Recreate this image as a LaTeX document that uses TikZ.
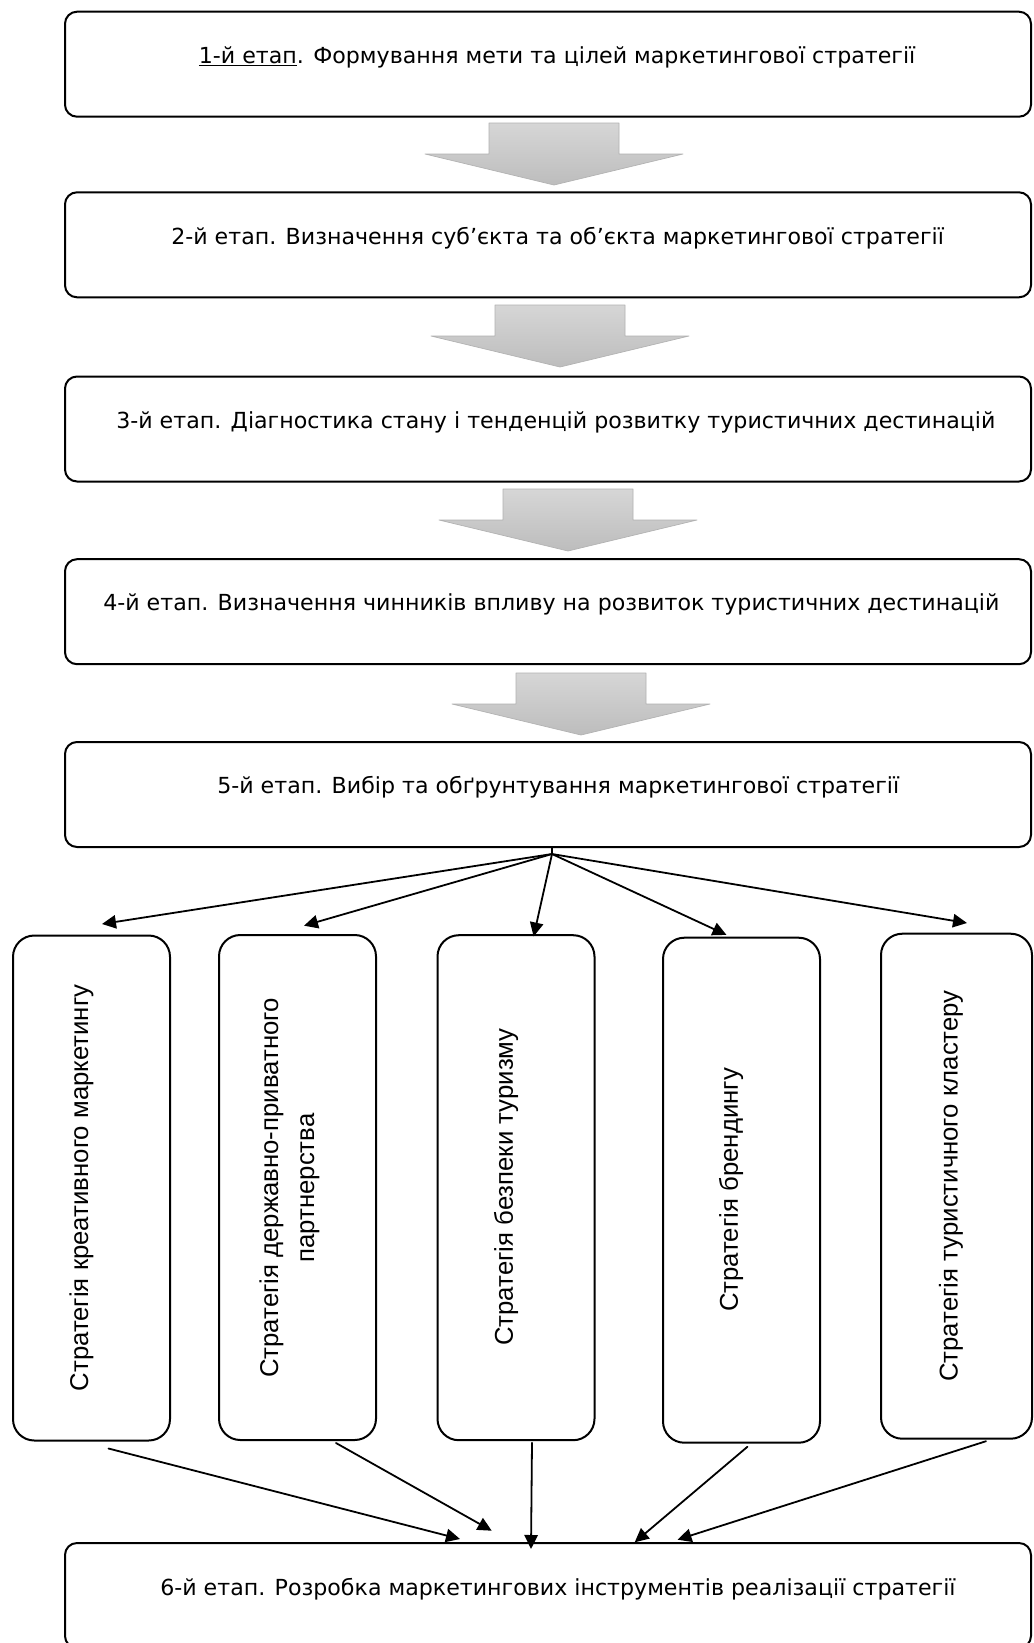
\documentclass[tikz,border=0pt]{standalone}
\usepackage{fontspec}
\setmainfont{DejaVu Sans}
\newfontfamily\arialfont{Liberation Sans}
\usetikzlibrary{arrows.meta,calc}

\begin{document}
\begin{tikzpicture}[x=0.75pt,y=-0.75pt,>={Triangle[length=10.5pt,width=10pt]},line join=round,line cap=round,
	stage/.style={draw,line width=1.5pt,rounded corners=9pt,minimum width=724.5pt,minimum height=78.75pt,inner sep=0pt},
	stagetxt/.style={anchor=west,inner sep=0pt,font=\fontsize{16.6}{20}\selectfont},
	strat/.style={draw,line width=1.5pt,rounded corners=16pt,minimum width=117.75pt,minimum height=378.75pt,inner sep=0pt},
	strattxt/.style={inner sep=0pt,rotate=90,align=center,font=\arialfont\fontsize{19.3}{27}\selectfont},
	bigarrow/.style={draw=black!30,line width=0.5pt,top color=black!16,bottom color=black!26},
	link/.style={->,line width=1.35pt}]
	\path[use as bounding box,fill=white] (0,0) rectangle (1033,1643);
	% етапи
	\foreach \i/\yc in {1/64.2,2/244.8,3/429,4/611.7,5/794.5,6/1595.5}
		\node[stage] (st\i) at (548,\yc) {};
	\node[stagetxt] (t1) at (198.6,57) {\underline{1-й етап}. Формування мети та цілей маркетингової стратегії};
	\node[stagetxt] (t2) at (171,238) {2-й етап. Визначення суб’єкта та об’єкта маркетингової стратегії};
	\node[stagetxt] (t3) at (116,422) {3-й етап. Діагностика стану і тенденцій розвитку туристичних дестинацій};
	\node[stagetxt] (t4) at (103,604) {4-й етап. Визначення чинників впливу на розвиток туристичних дестинацій};
	\node[stagetxt] (t5) at (217,787) {5-й етап. Вибір та обґрунтування маркетингової стратегії};
	\node[stagetxt] (t6) at (160,1589) {6-й етап. Розробка маркетингових інструментів реалізації стратегії};
	% сірі стрілки
	\foreach \cx/\ty in {554/123,560/305,568/489,581/673}
		\draw[bigarrow] (\cx-65,\ty) -- (\cx+65,\ty) -- (\cx+65,\ty+31) -- (\cx+129,\ty+31) -- (\cx,\ty+62) -- (\cx-129,\ty+31) -- (\cx-65,\ty+31) -- cycle;
	% стратегії
	\node[strat] (k1) at (91.5,1188) {};
	\node[strat] (k2) at (297.5,1187.5) {};
	\node[strat] (k3) at (516,1187.7) {};
	\node[strat] (k4) at (741.5,1190.2) {};
	\node[strat,minimum width=113.25pt] (k5) at (956.5,1186.2) {};
	\node[strattxt] (s1) at (81.5,1188) {Стратегія креативного маркетингу};
	\node[strattxt] (s2) at (289.5,1188) {Стратегія державно-приватного\\партнерства};
	\node[strattxt] (s3) at (506,1187) {Стратегія безпеки туризму};
	\node[strattxt] (s4) at (731,1190) {Стратегія брендингу};
	\node[strattxt] (s5) at (951,1186) {Стратегія туристичного кластеру};
	% розгалуження
	\coordinate (fan) at ($(st5.south)+(4,6)$);
	\draw[line width=1.35pt] (fan) -- (fan |- st5.south);
	\foreach \k/\dx/\dy in {1/10.5/-10.5,2/6.5/-8.3,3/17.6/2.3,4/-15/-1.8,5/10.5/-9.7}
		\draw[link] (fan) -- ($(k\k.north)+(\dx,\dy)$);
	\foreach \k/\ax/\ay/\bx/\by in {1/17/7/396/-3,2/38.5/2/427.7/-11.3,3/16/1.5/467/7,4/6/3/570.7/0.3,5/29.5/1.5/613.5/-2.3}
		\draw[link] ($(k\k.south)+(\ax,\ay)$) -- ($(st6.north west)+(\bx,\by)$);
\end{tikzpicture}
\end{document}
